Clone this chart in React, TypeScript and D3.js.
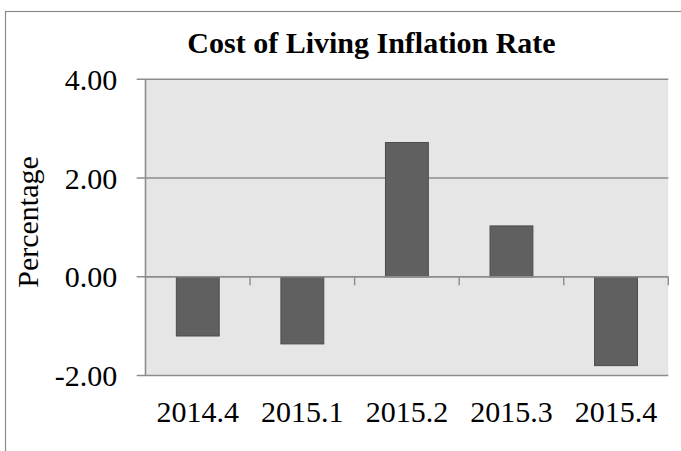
import React from "react";
import * as d3 from "d3";

const categories = ["2014.4", "2015.1", "2015.2", "2015.3", "2015.4"];
const values = [-1.2, -1.36, 2.72, 1.03, -1.8];
const yTicks = [-2, 0, 2, 4];
const title = "Cost of Living Inflation Rate";
const yLabel = "Percentage";

export default function App() {
  const W = 681, H = 451;
  const left = 145.5, right = 668.3, top = 79.3, bottom = 375.5;
  const x = d3.scaleBand().domain(categories).range([left, right]).paddingInner(0.59).paddingOuter(0.295);
  const xb = d3.scaleBand().domain(categories).range([left, right]);
  const y = d3.scaleLinear().domain([-2, 4]).range([bottom, top]);
  const font = "'Liberation Serif', 'Times New Roman', serif";
  const grid = "#8c8c8c";
  return (
    <svg width={W} height={H} style={{ position: "absolute", left: 0, top: 0 }}>
      <rect x={0} y={0} width={W} height={H} fill="#fff" />
      <rect x={5.5} y={11.5} width={800} height={600} fill="none" stroke="#8a8a8a" strokeWidth={1.2} />
      <text x={371.5} y={53.3} textAnchor="middle" fontFamily={font} fontWeight="bold" fontSize={30} fill="#000">{title}</text>
      <rect x={left} y={top} width={right - left} height={bottom - top} fill="#e6e6e6" />
      {yTicks.map((t) => (
        <g key={t}>
          <line x1={136.7} x2={right} y1={y(t)} y2={y(t)} stroke={grid} strokeWidth={1.6} />
          <text x={117.3} y={y(t) + 10.5} textAnchor="end" fontFamily={font} fontSize={30} fill="#000">{t.toFixed(2)}</text>
        </g>
      ))}
      <line x1={left} x2={left} y1={top} y2={bottom} stroke={grid} strokeWidth={1.6} />
      {values.map((v, i) => (
        <rect key={i} x={x(categories[i])!} width={x.bandwidth()} y={Math.min(y(v), y(0))} height={Math.abs(y(v) - y(0))}
          fill="#606060" stroke="#4c4c4c" strokeWidth={1} />
      ))}
      <line x1={left} x2={right} y1={y(0)} y2={y(0)} stroke={grid} strokeWidth={1.6} />
      {categories.map((c, i) => (
        <line key={c} x1={xb(c)! + xb.bandwidth()} x2={xb(c)! + xb.bandwidth()} y1={y(0)} y2={y(0) + 8.5} stroke={grid} strokeWidth={1.4} />
      ))}
      {categories.map((c) => (
        <text key={c} x={xb(c)! + xb.bandwidth() / 2} y={422.3} textAnchor="middle" fontFamily={font} fontSize={30} fill="#000">{c}</text>
      ))}
      <text transform={`translate(38,222) rotate(-90)`} textAnchor="middle" fontFamily={font} fontSize={30} fill="#000">{yLabel}</text>
    </svg>
  );
}
